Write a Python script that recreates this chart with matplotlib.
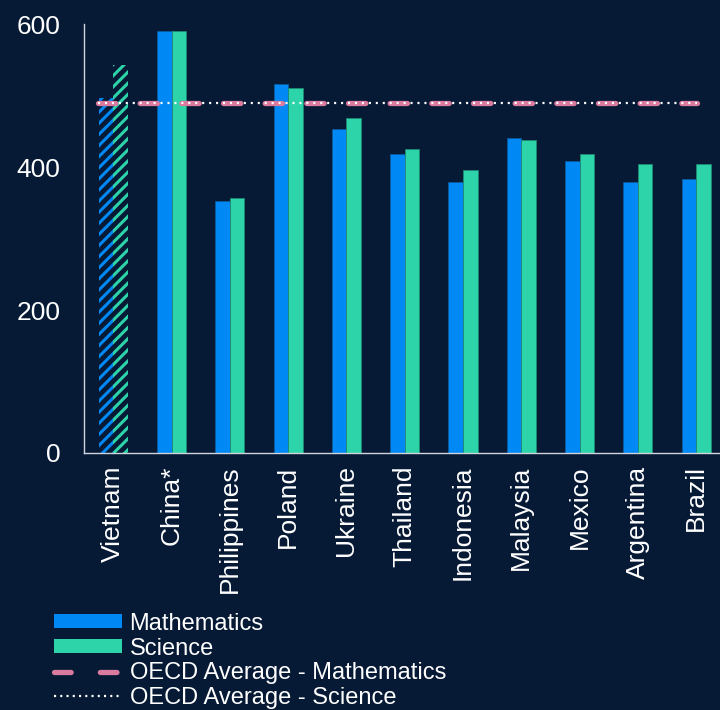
import numpy as np
import matplotlib.pyplot as plt
from matplotlib.patches import Patch
from matplotlib.lines import Line2D

plt.rcParams['font.family'] = ['Liberation Sans', 'DejaVu Sans']
plt.rcParams['lines.scale_dashes'] = False
plt.rcParams['hatch.linewidth'] = 2.2

countries = ['Vietnam', 'China*', 'Philippines', 'Poland', 'Ukraine', 'Thailand',
             'Indonesia', 'Malaysia', 'Mexico', 'Argentina', 'Brazil']
mathematics = [496, 591, 353, 516, 453, 419, 379, 440, 409, 379, 384]
science = [543, 590, 357, 511, 469, 426, 396, 438, 419, 404, 404]
oecd_math = 489
oecd_science = 489

bg = '#061a36'
blue = '#0088f5'
green = '#2dd3a9'
pink = '#d97a9e'

fig = plt.figure(figsize=(7.2, 7.1), dpi=100, facecolor=bg)
ax = fig.add_axes([0.117, 0.362, 0.883, 0.604], facecolor=bg)

x = np.arange(len(countries))
w = 0.25
for i in x:
    if countries[i] == 'Vietnam':
        # projected values, drawn hatched
        ax.bar(i - w / 2, mathematics[i], w, facecolor='none', edgecolor=blue,
               hatch='///', linewidth=0)
        ax.bar(i + w / 2, science[i], w, facecolor='none', edgecolor=green,
               hatch='///', linewidth=0)
    else:
        ax.bar(i - w / 2, mathematics[i], w, color=blue, edgecolor='#0b5a9a', linewidth=0.6)
        ax.bar(i + w / 2, science[i], w, color=green, edgecolor='#1e8a74', linewidth=0.6)

ax.hlines(oecd_math, -0.27, 10.02, colors=pink, linewidth=3.8,
          linestyles=(0, (12.5, 17.5)), capstyle='round')
ax.hlines(oecd_science, -0.27, 10.02, colors='white', linewidth=1.6,
          linestyles=(0, (1.5, 3.5)))

ax.set_xlim(-0.5, 10.41)
ax.set_ylim(0, 600)
ax.set_yticks([0, 200, 400, 600])
ax.set_xticks(x)
ax.set_xticklabels(countries, rotation=90, va='top', ha='center')
ax.tick_params(axis='y', length=0, pad=17, labelsize=19, labelcolor='white')
ax.tick_params(axis='x', length=0, pad=9, labelsize=19, labelcolor='white')

for s in ['top', 'right']:
    ax.spines[s].set_visible(False)
for s in ['left', 'bottom']:
    ax.spines[s].set_color('#d0d4dc')
    ax.spines[s].set_linewidth(1)

handles = [
    Patch(facecolor=blue, edgecolor='none'),
    Patch(facecolor=green, edgecolor='none'),
    Line2D([], [], color=pink, linewidth=3.8, linestyle=(0, (12, 21)),
           solid_capstyle='round', dash_capstyle='round'),
    Line2D([], [], color='white', linewidth=1.6, linestyle=(0, (1.5, 3.0))),
]
labels = ['Mathematics', 'Science', 'OECD Average - Mathematics', 'OECD Average - Science']
leg = fig.legend(handles, labels, loc='upper left', bbox_to_anchor=(0.075, 0.137),
                 frameon=False, fontsize=17, labelcolor='white', handlelength=2.9,
                 handleheight=0.55, handletextpad=0.3, labelspacing=0.12,
                 borderaxespad=0, borderpad=0)

fig.savefig('out.png', dpi=100, facecolor=bg)
